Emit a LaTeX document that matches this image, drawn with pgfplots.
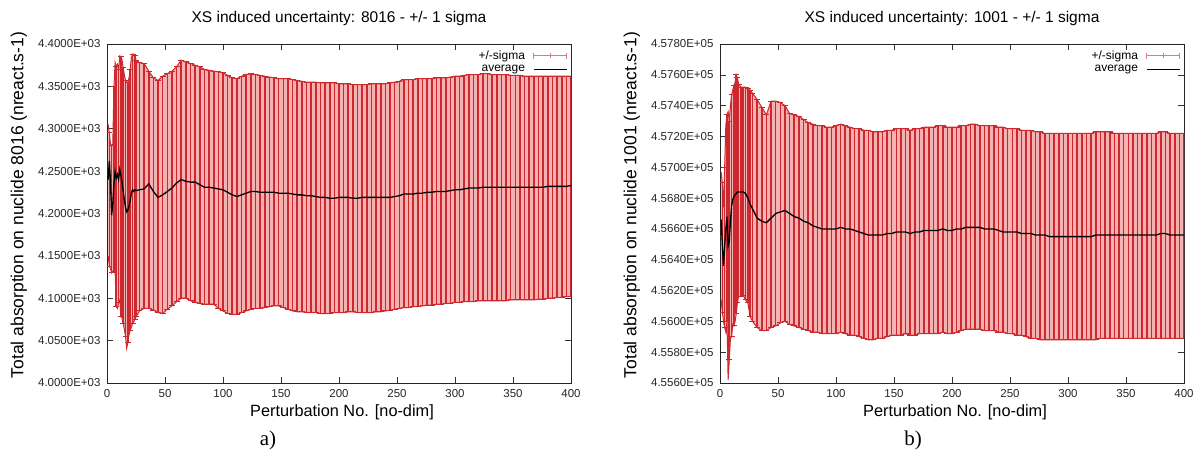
\documentclass[border=0pt]{standalone}
\usepackage{fontspec}
\setmainfont{Liberation Sans}
\newfontfamily\capfont{Liberation Serif}
\usepackage{pgfplots}
\usepgfplotslibrary{fillbetween}
\usepackage{pgfplotstable}
\pgfplotsset{compat=1.18}

\definecolor{barred}{RGB}{205,40,45}
\definecolor{barpink}{RGB}{244,178,178}
\definecolor{legpink}{RGB}{225,120,120}

% x = perturbation, avg = running average, lo/hi = -/+ 1 sigma
\pgfplotstableread{
x avg lo hi
1 4240 4150 4305
2 4262 4138 4295
3 4238 4135 4282
4 4198 4130 4280
5 4212 4132 4282
6 4235 4131 4350
7 4249 4131 4378
8 4242 4090 4373
9 4246 4088 4376
10 4240 4095 4370
11 4252 4098 4386
12 4245 4078 4385
13 4236 4077 4381
14 4226 4070 4372
15 4216 4063 4363
16 4207 4055 4357
17 4202 4041 4355
18 4204 4048 4355
19 4209 4057 4360
20 4215 4062 4370
21 4224 4066 4384
22 4228 4070 4388
23 4226 4072 4388
24 4228 4075 4386
25 4227 4078 4381
28 4228 4085 4378
32 4229 4088 4377
36 4235 4088 4368
40 4226 4086 4360
44 4219 4083 4357
48 4222 4082 4362
52 4226 4087 4365
56 4230 4091 4368
60 4236 4096 4373
64 4240 4100 4381
68 4238 4100 4379
72 4237 4097 4377
76 4237 4095 4375
80 4234 4094 4373
84 4231 4093 4370
88 4231 4093 4369
92 4230 4093 4368
96 4229 4088 4367
100 4228 4085 4366
104 4225 4082 4363
108 4222 4081 4360
112 4220 4081 4359
116 4222 4083 4362
120 4224 4085 4364
124 4226 4087 4365
128 4226 4088 4364
132 4225 4088 4363
136 4225 4089 4362
140 4225 4090 4361
144 4225 4091 4360
148 4224 4091 4359
152 4224 4089 4359
156 4224 4087 4359
160 4223 4085 4358
164 4222 4084 4357
168 4222 4084 4356
172 4221 4083 4355
176 4221 4083 4355
180 4220 4083 4355
184 4219 4082 4354
188 4219 4082 4354
192 4218 4082 4354
196 4218 4083 4354
200 4219 4083 4353
204 4219 4083 4353
208 4219 4084 4353
212 4218 4084 4352
216 4218 4083 4352
220 4219 4083 4352
224 4219 4083 4352
228 4219 4083 4353
232 4219 4084 4353
236 4219 4084 4353
240 4219 4085 4353
244 4219 4086 4354
248 4220 4087 4355
252 4221 4088 4356
256 4223 4089 4358
260 4223 4089 4358
264 4223 4090 4358
268 4224 4090 4359
272 4224 4091 4359
276 4225 4092 4359
280 4225 4092 4359
284 4226 4093 4360
288 4226 4093 4360
292 4226 4094 4360
296 4227 4094 4361
300 4228 4095 4362
304 4228 4095 4362
308 4229 4096 4363
312 4230 4096 4364
316 4230 4096 4364
320 4230 4097 4364
324 4231 4097 4365
328 4231 4097 4365
332 4231 4097 4364
336 4231 4097 4364
340 4231 4097 4364
344 4231 4097 4364
348 4231 4098 4363
352 4231 4098 4363
356 4231 4098 4363
360 4231 4098 4362
364 4231 4098 4362
368 4231 4098 4362
372 4231 4099 4362
376 4231 4099 4362
380 4232 4100 4362
384 4232 4100 4362
388 4232 4101 4362
392 4232 4101 4362
396 4232 4102 4362
400 4233 4102 4362
}\tabA

\pgfplotstableread{
x avg lo hi
1 456660 456140 456970
2 456500 456060 456900
3 456360 456000 456740
4 456480 455960 457000
5 456600 455930 457270
6 456680 456000 457340
7 456490 455620 457360
8 456520 455750 457300
9 456650 455890 457400
10 456750 455900 457470
11 456790 455980 457500
12 456810 455970 457530
13 456820 456000 457550
14 456830 456050 457600
15 456840 456120 457580
16 456840 456160 457540
18 456840 456160 457520
20 456840 456170 457520
22 456830 456140 457520
24 456800 456120 457510
26 456760 456030 457500
28 456730 456000 457480
32 456670 455960 457440
36 456650 455940 457390
40 456640 455940 457340
44 456670 455960 457430
48 456700 455970 457430
52 456710 455990 457420
56 456720 456000 457400
60 456700 455980 457350
64 456680 455970 457340
68 456670 455960 457330
72 456650 455950 457310
76 456640 455940 457290
80 456620 455930 457280
84 456610 455930 457270
88 456600 455920 457270
92 456600 455920 457260
96 456600 455920 457260
100 456600 455920 457270
104 456610 455930 457280
108 456600 455920 457270
112 456600 455910 457260
116 456590 455910 457250
120 456580 455900 457250
124 456570 455890 457240
128 456560 455880 457240
132 456560 455880 457230
136 456560 455890 457230
140 456560 455890 457230
144 456570 455900 457240
148 456570 455910 457240
152 456580 455910 457250
156 456580 455910 457250
160 456580 455920 457250
164 456570 455910 457240
168 456580 455910 457250
172 456580 455920 457250
176 456590 455920 457260
180 456590 455920 457260
184 456590 455920 457260
188 456590 455920 457270
192 456600 455930 457270
196 456590 455920 457260
200 456590 455920 457260
204 456600 455930 457260
208 456600 455940 457270
212 456610 455950 457270
216 456610 455950 457280
220 456610 455950 457280
224 456610 455950 457270
228 456600 455940 457270
232 456600 455940 457270
236 456600 455940 457270
240 456590 455930 457260
244 456580 455930 457260
248 456580 455920 457250
252 456580 455920 457250
256 456580 455910 457250
260 456570 455910 457240
264 456570 455900 457240
268 456570 455890 457240
272 456560 455890 457230
276 456560 455880 457230
280 456560 455880 457220
284 456550 455880 457220
288 456550 455880 457220
292 456550 455880 457220
296 456550 455880 457220
300 456550 455880 457220
304 456550 455880 457220
308 456550 455880 457220
312 456550 455880 457220
316 456550 455880 457220
320 456550 455880 457220
324 456560 455880 457230
328 456560 455890 457230
332 456560 455890 457230
336 456560 455890 457230
340 456560 455890 457220
344 456560 455890 457220
348 456560 455890 457220
352 456560 455890 457220
356 456560 455890 457220
360 456560 455890 457220
364 456560 455890 457220
368 456560 455890 457220
372 456560 455890 457220
376 456560 455890 457220
380 456570 455890 457230
384 456570 455890 457230
388 456560 455890 457220
392 456560 455890 457220
396 456560 455890 457220
400 456560 455890 457220
}\tabB

\pgfplotsset{
  panel/.style={
    scale only axis, width=464pt, height=339pt,
    anchor=south west,
    xmin=0, xmax=400,
    xtick={0,50,...,400},
    scaled y ticks=false,
    /pgf/number format/assume math mode=true,
    tick align=inside, major tick length=6pt,
    tick style={black!80, line width=0.6pt},
    axis line style={black!85, line width=0.8pt},
    tick label style={font=\fontsize{11.5}{13}\selectfont, black!85},
    xticklabel style={yshift=-3pt},
    yticklabel style={xshift=-3pt},
    title style={font=\fontsize{15.5}{17}\selectfont, at={(0.5,1)}, anchor=base, yshift=15.5pt},
    xlabel={Perturbation No. [no-dim]},
    xlabel style={font=\fontsize{16.3}{18}\selectfont, at={(rel axis cs:0.5,0)}, anchor=base, xshift=3pt, yshift=-34pt},
    ylabel style={font=\fontsize{17.5}{19}\selectfont, at={(rel axis cs:-0.19,0.525)}, anchor=center},
    legend plot pos=right,
    legend cell align=right,
    legend style={at={(rel axis cs:0.995,0.99)}, anchor=north east, draw=none, fill=none,
      font=\fontsize{12}{13}\selectfont, inner sep=1pt, row sep=0.5pt, column sep=6pt},
  },
  sigbars/.style={draw=none, mark=none,
    error bars/.cd, y dir=both, y explicit,
    error bar style={draw=barred, line width=1.6pt},
    error mark options={draw=barred, line width=1pt, mark size=3pt, rotate=90}},
  sigleg/.style={legend image code/.code={
    \draw[legpink, line width=0.9pt] (0pt,0pt) -- (33pt,0pt);
    \draw[legpink, line width=0.9pt] (0pt,-3pt) -- (0pt,3pt);
    \draw[legpink, line width=0.9pt] (16.5pt,-2.5pt) -- (16.5pt,2.5pt);
    \draw[legpink, line width=0.9pt] (33pt,-3pt) -- (33pt,3pt);}},
  avgleg/.style={legend image code/.code={
    \draw[black, line width=1.5pt] (0pt,0pt) -- (33pt,0pt);}},
  % thin out the dense first bars (odd rows among the first ones)
  thinA/.style={
    skip coords between index={0}{1}, skip coords between index={2}{3},
    skip coords between index={4}{5}, skip coords between index={6}{7},
    skip coords between index={8}{9}, skip coords between index={10}{11},
    skip coords between index={12}{13}, skip coords between index={14}{15},
    skip coords between index={16}{17}, skip coords between index={18}{19},
    skip coords between index={20}{21}, skip coords between index={22}{23}},
  thinB/.style={
    skip coords between index={0}{1}, skip coords between index={2}{3},
    skip coords between index={4}{5}, skip coords between index={6}{7},
    skip coords between index={8}{9}, skip coords between index={10}{11},
    skip coords between index={12}{13}},
}

\begin{document}
\begin{tikzpicture}[x=1pt,y=1pt]

\begin{axis}[panel, at={(107pt,79pt)},
  ymin=4000, ymax=4400,
  ytick={4000,4050,...,4400},
  yticklabels={4.0000E+03,4.0500E+03,4.1000E+03,4.1500E+03,4.2000E+03,4.2500E+03,4.3000E+03,4.3500E+03,4.4000E+03},
  ylabel={Total absorption on nuclide 8016 (nreact.s-1)},
  title={XS induced uncertainty: 8016 - +/- 1 sigma},
]
\addplot[draw=none, name path=upA, forget plot] table[x=x, y=hi] {\tabA};
\addplot[draw=none, name path=dnA, forget plot] table[x=x, y=lo] {\tabA};
\addplot[barpink, forget plot] fill between[of=upA and dnA];
\addplot[barred, line width=1pt, mark=none, forget plot] table[x=x, y=hi] {\tabA};
\addplot[barred, line width=1pt, mark=none, forget plot] table[x=x, y=lo] {\tabA};
\addplot[thinA, sigleg, sigbars] table[x=x, y=avg,
  y error plus expr=\thisrow{hi}-\thisrow{avg},
  y error minus expr=\thisrow{avg}-\thisrow{lo}] {\tabA};
\addlegendentry{+/-sigma}
\addplot[black, line width=1.3pt, mark=none, avgleg] table[x=x, y=avg] {\tabA};
\addlegendentry{average}
\end{axis}

\begin{axis}[panel, at={(720pt,79pt)},
  ymin=455600, ymax=457800,
  ytick={455600,455800,...,457800},
  yticklabels={4.5560E+05,4.5580E+05,4.5600E+05,4.5620E+05,4.5640E+05,4.5660E+05,4.5680E+05,4.5700E+05,4.5720E+05,4.5740E+05,4.5760E+05,4.5780E+05},
  ylabel={Total absorption on nuclide 1001 (nreact.s-1)},
  title={XS induced uncertainty: 1001 - +/- 1 sigma},
]
\addplot[draw=none, name path=upB, forget plot] table[x=x, y=hi] {\tabB};
\addplot[draw=none, name path=dnB, forget plot] table[x=x, y=lo] {\tabB};
\addplot[barpink, forget plot] fill between[of=upB and dnB];
\addplot[barred, line width=1pt, mark=none, forget plot] table[x=x, y=hi] {\tabB};
\addplot[barred, line width=1pt, mark=none, forget plot] table[x=x, y=lo] {\tabB};
\addplot[thinB, sigleg, sigbars] table[x=x, y=avg,
  y error plus expr=\thisrow{hi}-\thisrow{avg},
  y error minus expr=\thisrow{avg}-\thisrow{lo}] {\tabB};
\addlegendentry{+/-sigma}
\addplot[black, line width=1.3pt, mark=none, avgleg] table[x=x, y=avg] {\tabB};
\addlegendentry{average}
\end{axis}

\node[font=\capfont\fontsize{21}{23}\selectfont] at (268,22) {a)};
\node[font=\capfont\fontsize{21}{23}\selectfont] at (913,22) {b)};
\path (0,0) rectangle (1198,462);
\end{tikzpicture}
\end{document}
